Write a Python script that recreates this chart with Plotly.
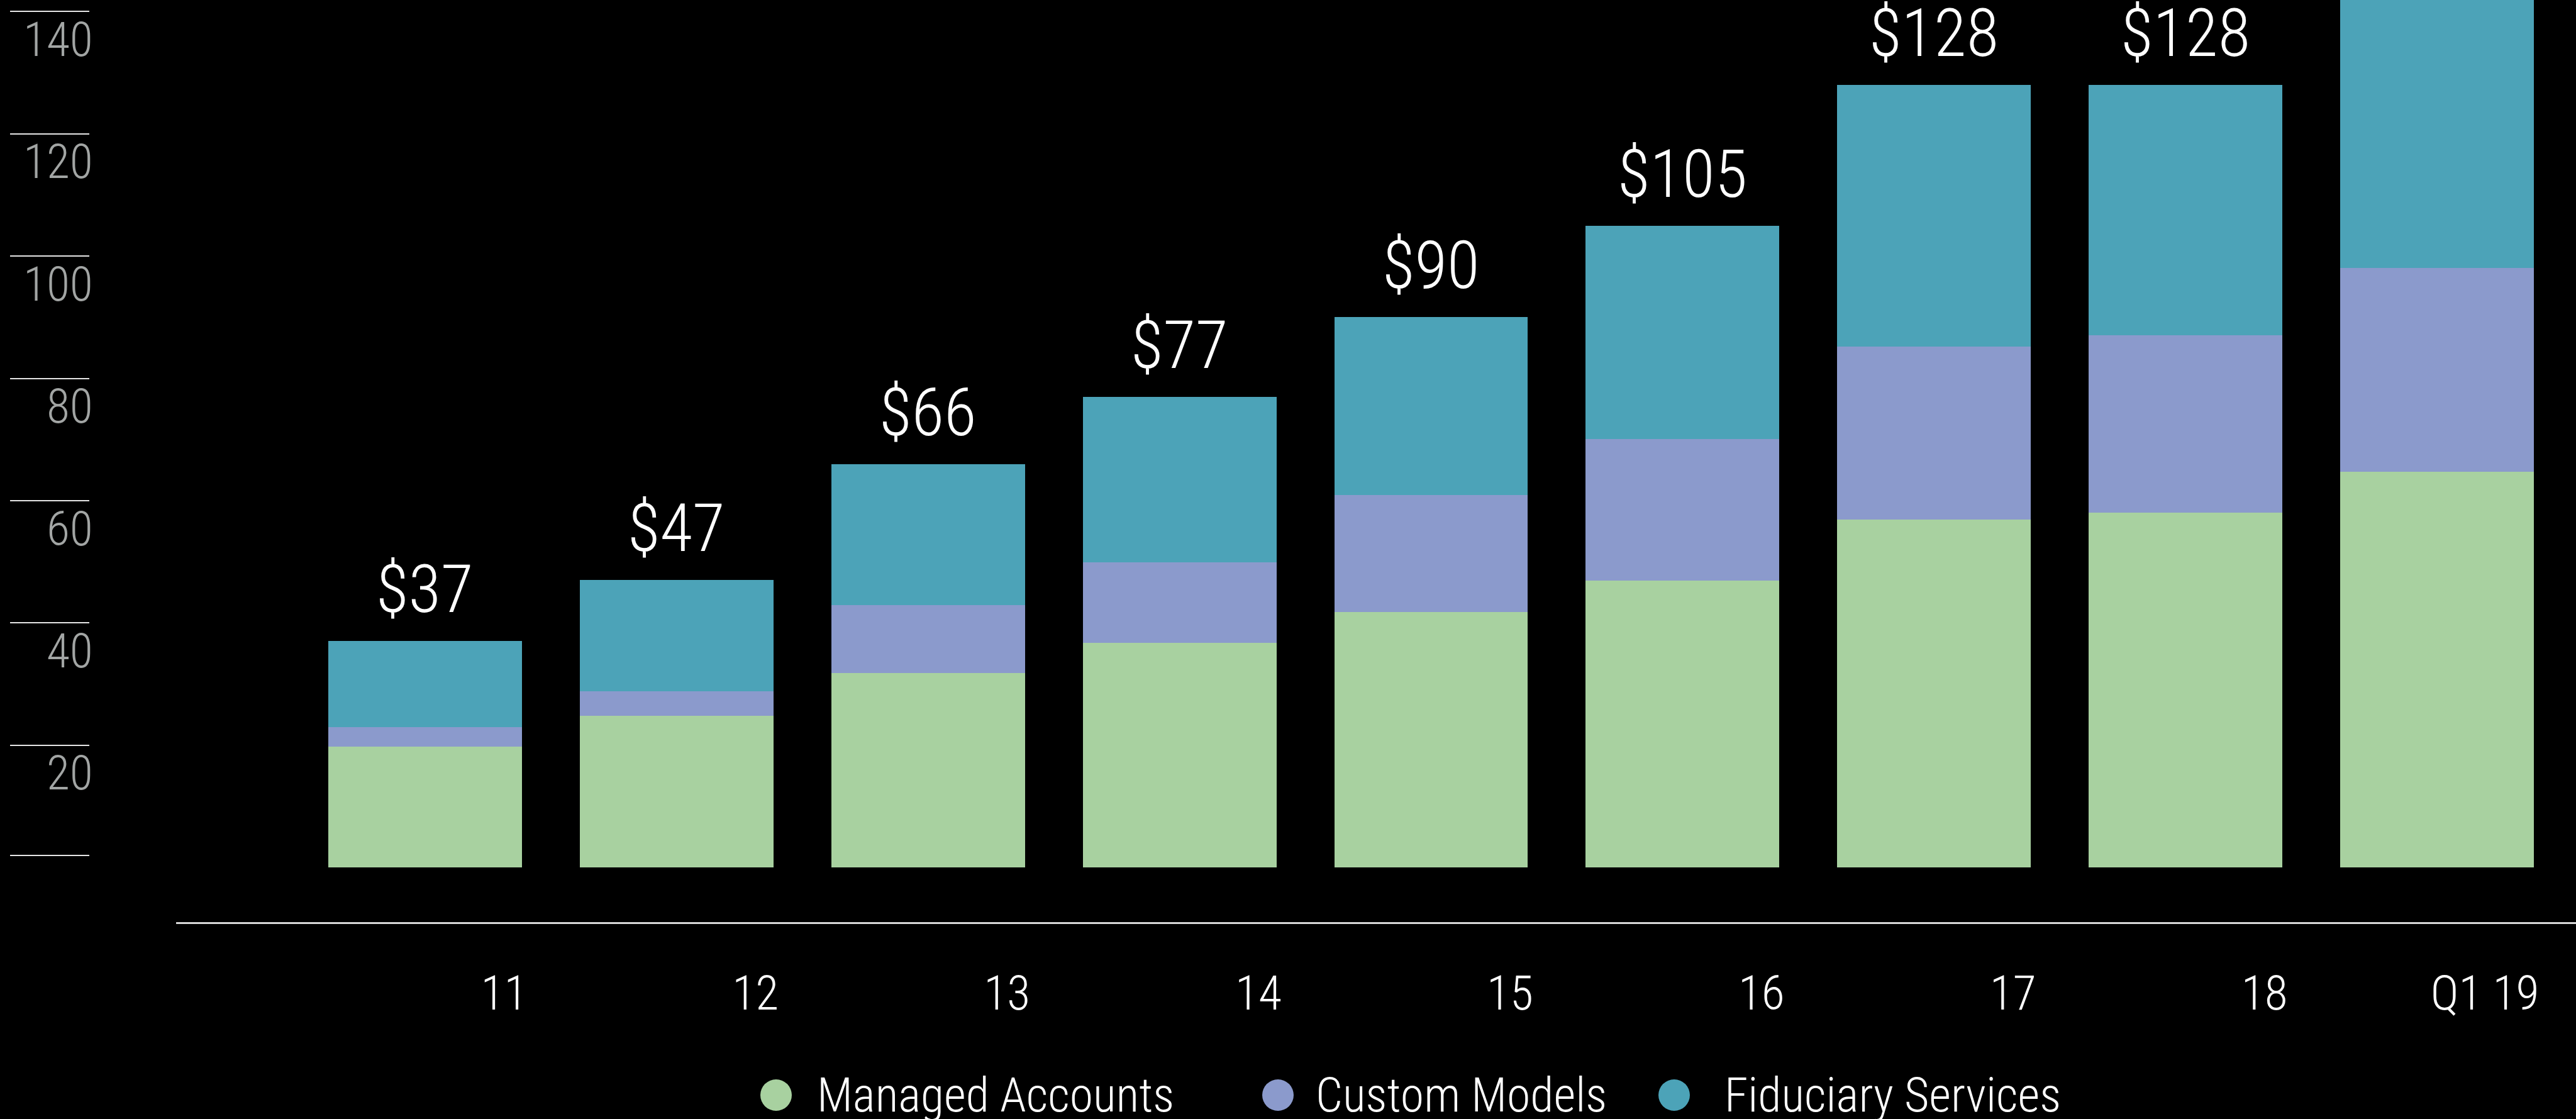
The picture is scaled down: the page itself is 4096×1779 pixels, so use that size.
import plotly.graph_objects as go

# Assets by service line, $ billions
periods = ["11", "12", "13", "14", "15", "16", "17", "18", "Q1 19"]
managed_accounts = [19.8, 24.8, 31.8, 36.7, 41.8, 46.9, 56.9, 58.0, 64.7]
custom_models = [3.2, 4.0, 11.1, 13.2, 19.1, 23.2, 28.3, 29.1, 33.4]
fiduciary_services = [14.0, 18.2, 23.1, 27.1, 29.1, 34.9, 42.8, 40.9, 51.9]

series_names = ["Managed Accounts", "Custom Models", "Fiduciary Services"]
series_values = [managed_accounts, custom_models, fiduciary_services]
series_colors = ["#a8d1a0", "#8b9acc", "#4ca3b8"]

y_tick_values = [2, 20, 40, 60, 80, 100, 120, 140]
y_tick_labels = ["", "20", "40", "60", "80", "100", "120", "140"]

FONT = "Roboto Condensed, Roboto, sans-serif"
W, H = 4096, 1779
BAR_W = 0.77

x_pos = list(range(len(periods)))
totals = [round(a + b + c, 1) for a, b, c in zip(*series_values)]

fig = go.Figure()
for name, vals, color in zip(series_names, series_values, series_colors):
    fig.add_trace(go.Bar(
        x=x_pos, y=vals, width=BAR_W, name=name,
        marker=dict(color=color, line=dict(width=0)),
        showlegend=False, hoverinfo="skip",
    ))

# Total labels above each stack
annotations = []
for i, t in enumerate(totals):
    annotations.append(dict(
        x=i, y=t, xref="x", yref="y", text=f"${t:.0f}",
        showarrow=False, yanchor="bottom", xanchor="center", yshift=18,
        font=dict(family=FONT, size=106, color="white", weight=300),
    ))

# Legend row: dots drawn on a full-figure helper axis, names as annotations
legend_dot_x = [1234 / W, 2032 / W, 2662 / W]
legend_text_x = [1297 / W, 2090 / W, 2740 / W]
legend_y = 1 - 1741 / H
fig.add_trace(go.Scatter(
    x=legend_dot_x, y=[legend_y] * 3, xaxis="x2", yaxis="y2", mode="markers",
    marker=dict(size=50, color=series_colors, line=dict(width=0)),
    showlegend=False, hoverinfo="skip", cliponaxis=False,
))
for name, tx in zip(series_names, legend_text_x):
    annotations.append(dict(
        x=tx, y=legend_y, xref="paper", yref="paper", text=name,
        showarrow=False, xanchor="left", yanchor="middle",
        font=dict(family=FONT, size=76, color="white", weight=300),
    ))

fig.update_layout(
    width=W, height=H,
    margin=dict(l=0, r=0, t=0, b=0),
    paper_bgcolor="black", plot_bgcolor="rgba(0,0,0,0)",
    barmode="stack", bargap=0,
    font=dict(family=FONT, color="white", weight=300),
    xaxis=dict(
        domain=[280 / W, 1], range=[-0.99, 8.5525],
        tickvals=[i + BAR_W / 2 for i in x_pos], ticktext=periods,
        ticklabelposition="outside left", ticks="",
        ticklabelstandoff=45, ticklabelshift=10,
        tickfont=dict(family=FONT, size=76, color="white", weight=300),
        showline=True, linecolor="#d9d9d9", linewidth=3,
        showgrid=False, zeroline=False, fixedrange=True,
    ),
    yaxis=dict(
        domain=[313 / H, 1], range=[-8.95, 141.9],
        tickvals=y_tick_values, ticktext=y_tick_labels,
        ticks="outside", ticklen=126, tickwidth=2, tickcolor="#e6e6e6",
        tickfont=dict(family=FONT, size=76, color="#a2a5a4", weight=300),
        ticklabelshift=44, ticklabelstandoff=-147,
        anchor="free", position=142 / W,
        showline=False, showgrid=False, zeroline=False, fixedrange=True,
    ),
    xaxis2=dict(domain=[0, 1], range=[0, 1], visible=False, anchor="y2",
                fixedrange=True),
    yaxis2=dict(domain=[0, 1], range=[0, 1], visible=False, anchor="x2",
                fixedrange=True),
    annotations=annotations,
)

fig.write_html("out.html")
